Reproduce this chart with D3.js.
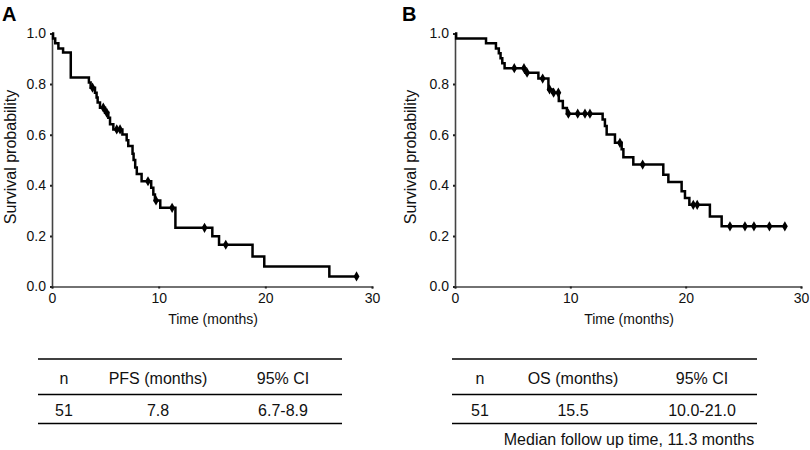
<!DOCTYPE html>
<html>
<head>
<meta charset="utf-8">
<script src="https://cdn.jsdelivr.net/npm/d3@7"></script>
<style>
  html, body { margin: 0; padding: 0; background: #fff; }
  svg { display: block; font-family: "Liberation Sans", Arial, Helvetica, sans-serif; }
</style>
</head>
<body>
<svg id="chart" width="810" height="450"></svg>
<script>
// ---------- DATA ----------
// Panel A: PFS Kaplan-Meier (event times in months and survival after each event)
const timesA = [0.1, 0.3, 0.6, 1.04, 1.76, 3.46, 3.62, 4.03, 4.18, 4.28, 4.5, 4.97, 5.28, 5.44, 5.75,
                6.6, 7.0, 7.15, 7.55, 7.65, 7.8, 7.95, 8.4, 9.3, 9.5, 9.65, 10.15, 11.57, 15.03, 15.66,
                18.8, 19.9, 26.0];
const survA  = [0.980, 0.961, 0.941, 0.925, 0.826, 0.806, 0.786, 0.766, 0.747, 0.727, 0.707, 0.687, 0.667, 0.641, 0.621,
                0.601, 0.578, 0.555, 0.525, 0.500, 0.470, 0.445, 0.416, 0.390, 0.364, 0.340, 0.311, 0.232, 0.199, 0.165,
                0.119, 0.079, 0.040];
const censorA = [3.8, 4.81, 5.13, 6.07, 6.38, 9.0, 9.75, 11.26, 14.3, 16.29, 28.55];
const endA = 28.55;

// Panel B: OS Kaplan-Meier
const timesB = [0.1, 2.69, 3.55, 3.8, 3.95, 4.1, 4.3, 6.1, 7.23, 8.1, 8.45, 9.0, 9.35, 9.7,
                12.8, 13.0, 13.15, 13.87, 14.45, 14.6, 15.46, 18.06, 18.5, 19.65, 19.94, 20.32, 22.1, 23.12];
const survB  = [0.980, 0.961, 0.941, 0.922, 0.902, 0.882, 0.863, 0.845, 0.822, 0.779, 0.766, 0.733, 0.706, 0.683,
                0.660, 0.634, 0.601, 0.568, 0.542, 0.511, 0.482, 0.442, 0.413, 0.376, 0.350, 0.323, 0.277, 0.238];
const censorB = [5.14, 5.98, 6.25, 7.6, 8.2, 8.55, 8.96, 9.83, 10.64, 11.27, 11.7, 14.3, 16.27,
                 20.66, 21.0, 23.84, 25.14, 25.92, 27.26, 28.6];
const endB = 28.6;

const xTicks = [0, 10, 20, 30];
const yTicks = [0, 0.2, 0.4, 0.6, 0.8, 1.0];

const headA = ["n", "PFS (months)", "95% CI"];
const rowA  = ["51", "7.8", "6.7-8.9"];
const headB = ["n", "OS (months)", "95% CI"];
const rowB  = ["51", "15.5", "10.0-21.0"];
const footB = "Median follow up time, 11.3 months";

// ---------- DRAW ----------
const svg = d3.select("#chart");
const FONT = "'Liberation Sans', Arial, Helvetica, sans-serif";

function panel(cfg) {
  const x = d3.scaleLinear().domain([0, 30]).range([cfg.x0, cfg.x1]);
  const y = d3.scaleLinear().domain([0, 1]).range([286.5, 33.5]);
  const g = svg.append("g");

  // panel letter
  g.append("text").attr("x", cfg.letterX).attr("y", 21)
    .attr("font-size", 20).attr("font-weight", "bold").attr("fill", "#000")
    .attr("font-family", FONT).text(cfg.letter);

  // axes
  const yAxis = d3.axisLeft(y).tickValues(yTicks).tickFormat(d3.format(".1f")).tickSize(2).tickPadding(4);
  const xAxis = d3.axisBottom(x).tickValues(xTicks).tickFormat(d3.format("d")).tickSize(2).tickPadding(5);
  const ya = g.append("g").attr("transform", `translate(${cfg.x0},0)`).call(yAxis);
  const xa = g.append("g").attr("transform", `translate(0,${y(0)})`).call(xAxis);
  [ya, xa].forEach(a => {
    a.select(".domain").attr("stroke", "#444").attr("stroke-width", 1.6);
    a.selectAll(".tick line").attr("stroke", "#222").attr("stroke-width", 2);
    a.selectAll(".tick text").attr("font-size", 14).attr("fill", "#111").attr("font-family", FONT);
  });

  // axis titles
  g.append("text").attr("transform", `translate(${cfg.letterX + 14},157) rotate(-90)`)
    .attr("text-anchor", "middle").attr("font-size", 16).attr("fill", "#111")
    .attr("font-family", FONT).text("Survival probability");
  g.append("text").attr("x", (cfg.x0 + cfg.x1) / 2 + 1).attr("y", 324)
    .attr("text-anchor", "middle").attr("font-size", 14).attr("fill", "#111")
    .attr("font-family", FONT).text("Time (months)");

  // KM step curve
  const pts = [{t: 0, s: 1}];
  cfg.times.forEach((t, i) => pts.push({t: t, s: cfg.surv[i]}));
  pts.push({t: cfg.end, s: cfg.surv[cfg.surv.length - 1]});
  const line = d3.line().x(d => x(d.t)).y(d => y(d.s)).curve(d3.curveStepAfter);
  g.append("path").datum(pts).attr("d", line)
    .attr("fill", "none").attr("stroke", "#000").attr("stroke-width", 2.5);

  // censor marks
  const bis = d3.bisector(d => d.t).right;
  const survAt = t => pts[Math.max(0, bis(pts, t) - 1)].s;
  const sym = d3.symbol().type(d3.symbolDiamond).size(30);
  g.selectAll("path.cens").data(cfg.censor).join("path").attr("class", "cens")
    .attr("d", sym)
    .attr("transform", d => `translate(${x(d)},${y(survAt(d))})`)
    .attr("fill", "#000");

  // table
  const tx = d3.scaleOrdinal().domain([0, 1, 2]).range(cfg.colX);
  const lineY = [359, 394.5, 423.5];
  g.selectAll("line.tbl").data(lineY).join("line").attr("class", "tbl")
    .attr("x1", cfg.tblX0).attr("x2", cfg.tblX1).attr("y1", d => d).attr("y2", d => d)
    .attr("stroke", "#000").attr("stroke-width", 1.4);
  g.selectAll("text.hd").data(cfg.head).join("text").attr("class", "hd")
    .attr("x", (d, i) => tx(i)).attr("y", 383.5).attr("text-anchor", "middle")
    .attr("font-size", 16).attr("fill", "#111").attr("font-family", FONT).text(d => d);
  g.selectAll("text.rw").data(cfg.row).join("text").attr("class", "rw")
    .attr("x", (d, i) => tx(i)).attr("y", 415.5).attr("text-anchor", "middle")
    .attr("font-size", 16).attr("fill", "#111").attr("font-family", FONT).text(d => d);
  if (cfg.foot) {
    g.append("text").attr("x", cfg.footX).attr("y", 445).attr("text-anchor", "middle")
      .attr("font-size", 16).attr("fill", "#111").attr("font-family", FONT).text(cfg.foot);
  }
}

panel({letter: "A", letterX: 2, x0: 52, x1: 372, times: timesA, surv: survA, censor: censorA, end: endA,
       head: headA, row: rowA, colX: [64, 158, 283], tblX0: 38, tblX1: 342});
panel({letter: "B", letterX: 402, x0: 455, x1: 801, times: timesB, surv: survB, censor: censorB, end: endB,
       head: headB, row: rowB, colX: [480, 573, 702], tblX0: 452, tblX1: 757,
       foot: footB, footX: 629});
</script>
</body>
</html>
